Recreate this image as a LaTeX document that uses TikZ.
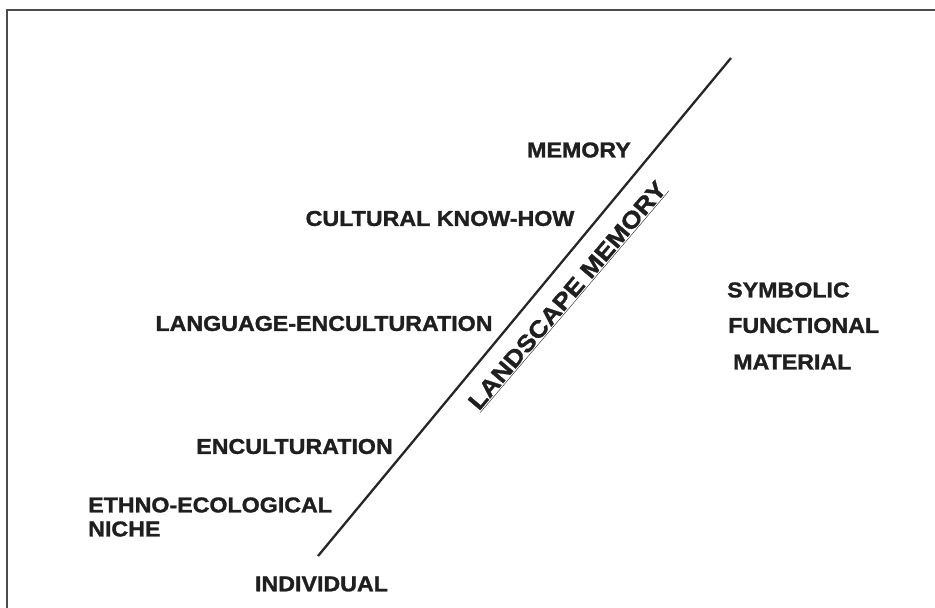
\documentclass[tikz,border=0pt]{standalone}
\usepackage{fontspec}
\setmainfont{Liberation Sans}[BoldFeatures={FakeBold=1.3}]
\begin{document}
\begin{tikzpicture}[x=1pt,y=-1pt,
  lbl/.style={font=\bfseries\fontsize{21.5}{24}\selectfont, text=black!88, inner sep=0pt, xscale=1.08},
  rlbl/.style={font=\bfseries\fontsize{23.5}{26}\selectfont, text=black!88, inner sep=0pt},
  frame/.style={line width=2pt, draw=black!70},
  axis/.style={line width=2.3pt, draw=black!85}]
\useasboundingbox (0,0) rectangle (935,608);
\fill[white] (0,0) rectangle (935,608);
\draw[frame] (7,608) -- (7,10) -- (935,10);
\coordinate (lo) at (318,556);
\coordinate (hi) at (731,58);
\draw[axis] (lo) -- (hi);
\node[lbl] (mem) at (579,150) {MEMORY};
\node[lbl] (ckh) at (440,218.5) {CULTURAL KNOW-HOW};
\node[lbl] (lang) at (324,323.5) {LANGUAGE-ENCULTURATION};
\node[lbl] (enc) at (294.5,446.5) {ENCULTURATION};
\node[lbl, anchor=west] (eth) at (88,505) {ETHNO-ECOLOGICAL};
\node[lbl, anchor=west] (niche) at (88,529) {NICHE};
\node[lbl] (ind) at (321.5,584) {INDIVIDUAL};
\node[lbl, anchor=west] (sym) at (727,290) {SYMBOLIC};
\node[lbl, anchor=west] (fun) at (728,325.5) {FUNCTIONAL};
\node[lbl, anchor=west] (mat) at (733,362) {MATERIAL};
\node[rlbl, rotate=49.6] (lm) at (568,296) {\scalebox{1.13}[1]{\underline{LANDSCAPE MEMORY}}};
\end{tikzpicture}
\end{document}
